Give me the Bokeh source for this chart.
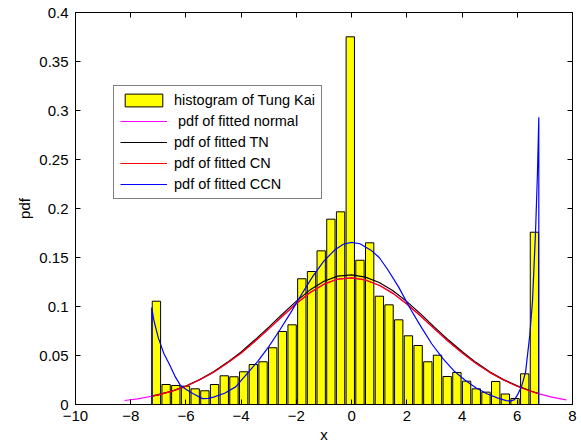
import numpy as np
from bokeh.plotting import figure
from bokeh.models import (Range1d, FixedTicker, LinearAxis, Legend, LegendItem,
                          CustomLabelingPolicy)
from bokeh.embed import file_html
from bokeh.resources import INLINE

# ---- histogram of Tung Kai (density per bin) ----
bin_low, bin_high = -7.245, 6.797
density = [0.1054, 0.0204, 0.0194, 0.0187, 0.0160, 0.0140, 0.0204, 0.0293, 0.0283, 0.0334,
           0.0408, 0.0436, 0.0579, 0.0745, 0.0813, 0.1283, 0.1357, 0.1568, 0.1891, 0.1966,
           0.3752, 0.1472, 0.1650, 0.1105, 0.1017, 0.0864, 0.0701, 0.0602, 0.0436, 0.0503,
           0.0286, 0.0327, 0.0238, 0.0160, 0.0126, 0.0235, 0.0107, 0.0061, 0.0313, 0.1758]

# ---- fitted densities ----
normal_x = [-8.22, -7.75, -7.24, -7.0, -6.5, -6.0, -5.5, -5.0, -4.5, -4.0, -3.5, -3.0, -2.5,
            -2.0, -1.5, -1.0, -0.5, 0.0, 0.5, 1.0, 1.5, 2.0, 2.5, 3.0, 3.5, 4.0, 4.5, 5.0,
            5.5, 6.0, 6.5, 6.8, 7.25, 7.78]
normal_y = [0.0041, 0.0058, 0.0084, 0.0099, 0.0137, 0.0186, 0.0252, 0.0330, 0.0423, 0.0525,
            0.0646, 0.0772, 0.0903, 0.1030, 0.1142, 0.1228, 0.1280, 0.1293, 0.1271, 0.1217,
            0.1134, 0.1026, 0.0903, 0.0772, 0.0645, 0.0528, 0.0421, 0.0328, 0.0250, 0.0186,
            0.0135, 0.0108, 0.0076, 0.0048]

tn_x = [-7.24, -7.0, -6.5, -6.0, -5.5, -5.0, -4.5, -4.0, -3.5, -3.0, -2.5, -2.0, -1.5, -1.0,
        -0.5, 0.0, 0.5, 1.0, 1.5, 2.0, 2.5, 3.0, 3.5, 4.0, 4.5, 5.0, 5.5, 6.0, 6.5, 6.78]
tn_y = [0.0085, 0.0100, 0.0138, 0.0188, 0.0255, 0.0335, 0.0430, 0.0535, 0.0660, 0.0790,
        0.0925, 0.1055, 0.1170, 0.1258, 0.1310, 0.1323, 0.1300, 0.1245, 0.1160, 0.1050,
        0.0925, 0.0790, 0.0660, 0.0540, 0.0430, 0.0335, 0.0255, 0.0190, 0.0138, 0.0110]

cn_x = tn_x
cn_y = [0.0084, 0.0099, 0.0137, 0.0186, 0.0252, 0.0330, 0.0423, 0.0525, 0.0646, 0.0772,
        0.0903, 0.1030, 0.1142, 0.1228, 0.1280, 0.1293, 0.1271, 0.1217, 0.1134, 0.1026,
        0.0903, 0.0772, 0.0645, 0.0528, 0.0421, 0.0328, 0.0250, 0.0186, 0.0135, 0.0108]

ccn_x = [-8.22, -7.24, -7.24, -7.16, -7.0, -6.8, -6.6, -6.4, -6.2, -6.0, -5.8, -5.6, -5.4,
         -5.2, -5.0, -4.6, -4.2, -3.8, -3.4, -3.0, -2.6, -2.2, -1.8, -1.4, -1.0, -0.6, -0.3,
         0.0, 0.3, 0.7, 1.0, 1.3, 1.7, 2.1, 2.5, 2.9, 3.3, 3.7, 4.1, 4.5, 4.9, 5.3, 5.6,
         5.75, 5.9, 6.0, 6.15, 6.3, 6.45, 6.55, 6.66, 6.73, 6.78, 6.78, 7.78]
ccn_y = [0.0, 0.0, 0.0990, 0.0857, 0.0680, 0.0520, 0.0410, 0.0290, 0.0195, 0.0155, 0.0120,
         0.0090, 0.0060, 0.0063, 0.0075, 0.0115, 0.0180, 0.0310, 0.0440, 0.0590, 0.0760,
         0.0940, 0.1130, 0.1310, 0.1465, 0.1580, 0.1635, 0.1655, 0.1640, 0.1575, 0.1500,
         0.1380, 0.1200, 0.0990, 0.0800, 0.0620, 0.0470, 0.0345, 0.0250, 0.0170, 0.0110,
         0.0065, 0.0040, 0.0035, 0.0050, 0.0095, 0.0180, 0.0330, 0.0700, 0.1050, 0.1750,
         0.2350, 0.2930, 0.0, 0.0]

# ---- axes ----
x_ticks = [-10, -8, -6, -4, -2, 0, 2, 4, 6, 8]
x_tick_labels = ["\u221210", "\u22128", "\u22126", "\u22124", "\u22122", "0", "2", "4", "6", "8"]
y_ticks = [0, 0.05, 0.1, 0.15, 0.2, 0.25, 0.3, 0.35, 0.4]
y_tick_labels = ["0", "0.05", "0.1", "0.15", "0.2", "0.25", "0.3", "0.35", "0.4"]

FONT = "Liberation Sans"
FS = "15px"
LEG_FS = "14.5px"

p = figure(width=581, height=446, output_backend="svg", toolbar_location=None,
           title=None, x_range=Range1d(-10, 8), y_range=Range1d(0, 0.4),
           min_border_left=75, min_border_right=9, min_border_top=12, min_border_bottom=42)
p.background_fill_color = "white"
p.border_fill_color = "white"
p.outline_line_color = "black"
p.grid.visible = False

edges = np.linspace(bin_low, bin_high, len(density) + 1)
centers = (edges[:-1] + edges[1:]) / 2
bw = edges[1] - edges[0]

bars = p.vbar(x=centers, top=density, width=0.86 * bw, bottom=0,
              fill_color="#FFFF00", line_color="black", line_width=1)
r_norm = p.line(normal_x, normal_y, line_color="#FF00FF", line_width=1.2)
r_tn = p.line(tn_x, tn_y, line_color="black", line_width=1.2)
r_cn = p.line(cn_x, cn_y, line_color="#FF0000", line_width=1.2)
r_ccn = p.line(ccn_x, ccn_y, line_color="#0000FF", line_width=1.2)

# label policy that draws no tick labels (for the mirrored box axes)
no_labels = CustomLabelingPolicy(code="""
    for (const i of indices) { indices.unset(i) }
    return indices
""")

def style_axis(ax, ticks, labels=None, show_labels=True):
    ax.ticker = FixedTicker(ticks=ticks)
    if labels is not None:
        ax.major_label_overrides = {t: l for t, l in zip(ticks, labels)}
    ax.major_tick_in = 5
    ax.major_tick_out = 0
    ax.minor_tick_line_color = None
    ax.axis_line_color = "black"
    ax.major_tick_line_color = "black"
    ax.major_label_text_font = FONT
    ax.major_label_text_color = "black"
    if show_labels:
        ax.major_label_text_font_size = FS
        ax.major_label_standoff = 6
    else:
        ax.major_label_policy = no_labels
        ax.major_label_text_font_size = "1px"
        ax.major_label_standoff = 0

xa = p.xaxis[0]
style_axis(xa, x_ticks, x_tick_labels)
xa.axis_label = "x"
xa.axis_label_text_font = FONT
xa.axis_label_text_font_size = FS
xa.axis_label_text_font_style = "normal"
xa.axis_label_text_color = "black"
xa.axis_label_standoff = 2

ya = p.yaxis[0]
style_axis(ya, y_ticks, y_tick_labels)
ya.major_label_standoff = 7
ya.axis_label = "pdf"
ya.axis_label_text_font = FONT
ya.axis_label_text_font_size = FS
ya.axis_label_text_font_style = "normal"
ya.axis_label_text_color = "black"
ya.axis_label_standoff = 3

top_ax = LinearAxis()
style_axis(top_ax, x_ticks, show_labels=False)
p.add_layout(top_ax, "above")
right_ax = LinearAxis()
style_axis(right_ax, y_ticks, show_labels=False)
p.add_layout(right_ax, "right")

legend = Legend(items=[
    LegendItem(label="histogram of Tung Kai", renderers=[bars]),
    LegendItem(label="\u00a0pdf of fitted normal", renderers=[r_norm]),
    LegendItem(label="pdf of fitted TN", renderers=[r_tn]),
    LegendItem(label="pdf of fitted CN", renderers=[r_cn]),
    LegendItem(label="pdf of fitted CCN", renderers=[r_ccn]),
], location=(38, 205))
legend.glyph_width = 47
legend.glyph_height = 16
legend.label_height = 16
legend.spacing = 5
legend.padding = 6
legend.margin = 0
legend.label_standoff = 7
legend.label_text_font = FONT
legend.label_text_font_size = LEG_FS
legend.label_text_color = "black"
legend.border_line_color = "black"
legend.border_line_width = 1
legend.background_fill_color = "white"
legend.background_fill_alpha = 1.0
p.add_layout(legend, "center")

open("out.html", "w").write(file_html(p, INLINE))
